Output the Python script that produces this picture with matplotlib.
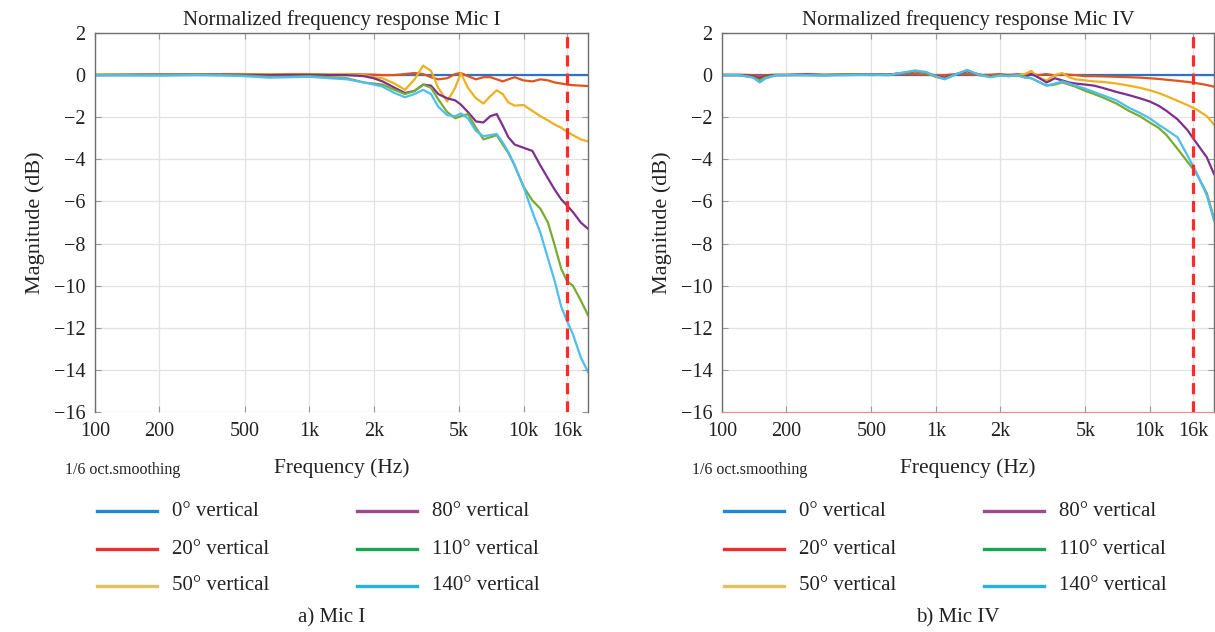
import matplotlib
matplotlib.use("Agg")
import matplotlib.pyplot as plt
from matplotlib.lines import Line2D

plt.rcParams["font.family"] = ["Liberation Serif", "DejaVu Serif"]

# ---- data --------------------------------------------------------------
ANGLES = ["0° vertical", "20° vertical", "50° vertical",
          "80° vertical", "110° vertical", "140° vertical"]

TICK_FREQS = [100, 200, 500, 1000, 2000, 5000, 10000, 16000]
TICK_LABELS = ["100", "200", "500", "1k", "2k", "5k", "10k", "16k"]
Y_TICKS = [-16, -14, -12, -10, -8, -6, -4, -2, 0, 2]
CUTOFF_HZ = 16000

# Mic I
freq_mic1 = [100, 200, 300, 400, 500, 650, 800, 1000, 1250, 1500, 1800, 2000,
             2200, 2500, 2800, 3100, 3400, 3700, 4000, 4400, 4800, 5100, 5500,
             6000, 6500, 7000, 7500, 8000, 8500, 9100, 10000, 11000, 12000,
             13000, 14000, 15000, 16000, 17000, 18500, 20000]
mic1_0 = [0.0] * len(freq_mic1)
mic1_20 = [0.02, 0.03, 0.03, 0.05, 0.05, 0.03, 0.05, 0.05, 0.02, 0.05, 0.03,
           0.02, 0.0, 0.0, 0.05, 0.1, 0.05, -0.1, -0.2, -0.15, 0.05, 0.1,
           -0.05, -0.2, -0.1, -0.1, -0.2, -0.3, -0.2, -0.1, -0.25, -0.3,
           -0.2, -0.25, -0.35, -0.4, -0.45, -0.48, -0.5, -0.52]
mic1_50 = [0.02, 0.03, 0.03, 0.05, 0.05, 0.03, 0.05, 0.05, 0.03, 0.05, 0.0,
           -0.1, -0.15, -0.4, -0.7, -0.2, 0.45, 0.2, -0.6, -1.25, -0.6, 0.1,
           -0.6, -1.1, -1.35, -1.0, -0.72, -0.9, -1.3, -1.45, -1.42, -1.7,
           -1.95, -2.15, -2.35, -2.5, -2.7, -2.85, -3.05, -3.15]
mic1_80 = [0.0, 0.02, 0.02, 0.03, 0.02, 0.0, 0.02, 0.02, 0.0, 0.0, -0.05,
           -0.15, -0.3, -0.6, -0.85, -0.75, -0.45, -0.5, -0.9, -1.1, -1.2,
           -1.4, -1.75, -2.2, -2.25, -1.95, -1.85, -2.4, -2.95, -3.3, -3.45,
           -3.6, -4.3, -4.9, -5.45, -5.9, -6.2, -6.5, -7.0, -7.3]
mic1_110 = [0.0, 0.0, 0.02, 0.0, -0.02, -0.08, -0.08, -0.05, -0.1, -0.15,
            -0.35, -0.4, -0.45, -0.7, -0.9, -0.75, -0.45, -0.6, -1.15, -1.75,
            -2.05, -1.95, -1.85, -2.5, -3.05, -2.95, -2.85, -3.3, -3.7, -4.3,
            -5.3, -5.95, -6.35, -7.0, -8.1, -9.2, -9.8, -10.0, -10.7, -11.4]
mic1_140 = [0.0, -0.02, 0.0, -0.02, -0.05, -0.12, -0.1, -0.08, -0.15, -0.2,
            -0.35, -0.45, -0.55, -0.85, -1.05, -0.9, -0.7, -0.9, -1.5, -1.9,
            -1.95, -1.82, -2.05, -2.65, -2.9, -2.85, -2.8, -3.2, -3.65, -4.3,
            -5.3, -6.5, -7.5, -8.7, -9.8, -11.0, -11.7, -12.3, -13.4, -14.1]

# Mic IV
freq_mic4 = [100, 120, 140, 150, 160, 180, 200, 250, 300, 400, 500, 600, 700,
             800, 900, 1000, 1100, 1250, 1400, 1600, 1800, 2000, 2200, 2400,
             2600, 2800, 3000, 3300, 3600, 3900, 4200, 4500, 5000, 5500, 6000,
             7000, 8000, 9000, 10000, 11000, 12000, 13500, 15000, 16500,
             18500, 20000]
mic4_0 = [0.0] * len(freq_mic4)
mic4_20 = [0.02, 0.02, 0.0, -0.05, 0.0, 0.02, 0.02, 0.05, 0.02, 0.03, 0.05,
           0.02, 0.05, 0.05, 0.03, 0.0, 0.0, 0.05, 0.05, 0.0, 0.02, 0.05, 0.0,
           0.05, 0.0, 0.08, 0.0, 0.05, -0.02, 0.05, 0.02, 0.0, -0.05, -0.05,
           -0.06, -0.08, -0.1, -0.12, -0.15, -0.18, -0.22, -0.27, -0.32,
           -0.38, -0.47, -0.55]
mic4_50 = [0.0, 0.0, -0.1, -0.3, -0.15, 0.0, 0.02, 0.0, 0.0, 0.05, 0.0, 0.02,
           0.1, 0.18, 0.1, -0.08, -0.15, 0.05, 0.2, 0.02, -0.05, 0.0, 0.02,
           0.0, 0.05, 0.2, -0.1, -0.25, 0.0, 0.1, -0.1, -0.2, -0.25, -0.3,
           -0.32, -0.4, -0.5, -0.6, -0.72, -0.85, -1.0, -1.22, -1.42, -1.62,
           -1.95, -2.35]
mic4_80 = [0.0, 0.0, -0.05, -0.15, -0.05, 0.0, 0.0, 0.02, 0.0, 0.03, 0.02,
           0.02, 0.1, 0.18, 0.12, -0.05, -0.12, 0.05, 0.18, 0.02, -0.05, 0.0,
           -0.02, 0.0, -0.1, 0.05, -0.1, -0.35, -0.15, -0.25, -0.35, -0.4,
           -0.45, -0.5, -0.6, -0.8, -0.95, -1.1, -1.25, -1.45, -1.7, -2.1,
           -2.6, -3.2, -3.9, -4.7]
mic4_110 = [0.0, 0.0, -0.1, -0.25, -0.1, 0.0, 0.0, 0.0, 0.0, 0.03, 0.02, 0.0,
            0.1, 0.2, 0.12, -0.08, -0.18, 0.05, 0.22, 0.02, -0.08, 0.0, -0.05,
            0.0, -0.1, -0.15, -0.3, -0.5, -0.45, -0.35, -0.45, -0.55, -0.75,
            -0.9, -1.05, -1.35, -1.7, -1.95, -2.25, -2.5, -2.85, -3.5, -4.1,
            -4.65, -5.6, -6.8]
mic4_140 = [0.0, 0.0, -0.12, -0.35, -0.15, 0.0, 0.0, 0.0, -0.02, 0.0, 0.02,
            0.0, 0.12, 0.22, 0.15, -0.05, -0.2, 0.05, 0.25, 0.0, -0.1, -0.02,
            -0.05, 0.0, -0.1, -0.15, -0.3, -0.5, -0.4, -0.3, -0.4, -0.5, -0.65,
            -0.8, -0.95, -1.2, -1.55, -1.8, -2.05, -2.35, -2.6, -2.95, -3.8,
            -4.6, -5.7, -6.9]

# ---- style --------------------------------------------------------------
LINE_COLORS = ["#2F72C4", "#E0531C", "#EDB120", "#7E2F8E", "#77AC30", "#4DBEEE"]
LEG_COLORS = ["#1F88CF", "#E8302C", "#E3C15C", "#9E4A8E", "#18A550", "#23B2E3"]
SPINE = "#6E6E6E"
GRID = "#E2E2E2"
TEXT = "#222222"

W, H = 1215, 632


def _fx(px):
    return px / W


def _fy(py):
    return 1 - py / H


def draw_panel(fig, left_px, right_px, freqs, curves, title, caption, bottom_color):
    """One frequency-response panel plus its legend block and caption."""
    ax = fig.add_axes([_fx(left_px), _fy(412), _fx(right_px - left_px), (412 - 33) / H])
    for vals, color in zip(curves, LINE_COLORS):
        ax.plot(freqs, vals, color=color, linewidth=1.6)
    ax.axvline(CUTOFF_HZ, color="#FF2A2A", linewidth=2.3, linestyle=(0, (3.5, 2.2)))

    ax.set_xscale("log")
    ax.set_xlim(100, 20000)
    ax.set_ylim(-16, 2)
    ax.set_xticks(TICK_FREQS)
    ax.set_xticklabels(TICK_LABELS)
    ax.minorticks_off()
    ax.set_yticks(Y_TICKS)
    ax.grid(color=GRID, linewidth=0.9)
    ax.set_axisbelow(True)
    ax.tick_params(direction="in", length=4, width=0.8, color="#999999",
                   labelsize=14.5, labelcolor=TEXT, pad=7,
                   top=True, right=True)
    for side in ("left", "top", "right"):
        ax.spines[side].set_color(SPINE)
        ax.spines[side].set_linewidth(1.0)
    ax.spines["bottom"].set_color(bottom_color)
    ax.spines["bottom"].set_linewidth(0.8)

    ax.set_title(title, fontsize=15, color=TEXT, pad=6)
    ax.set_ylabel("Magnitude (dB)", fontsize=16, color=TEXT, labelpad=6)

    mid = (left_px + right_px) / 2
    fig.text(_fx(mid), _fy(468), "Frequency (Hz)", ha="center", va="center",
             fontsize=15.5, color=TEXT)
    fig.text(_fx(left_px - 30), _fy(470), "1/6 oct.smoothing", ha="left",
             va="center", fontsize=11.5, color=TEXT)

    # legend block, two columns of three rows
    rows = [511, 549, 586]
    cols = [left_px + 2, left_px + 262]
    for i, (label, color) in enumerate(zip(ANGLES, LEG_COLORS)):
        x0 = cols[i // 3]
        y = _fy(rows[i % 3])
        fig.add_artist(Line2D([_fx(x0), _fx(x0 + 60)], [y, y], color=color,
                              linewidth=2.4, transform=fig.transFigure))
        fig.text(_fx(x0 + 75), y, label, ha="left", va="center",
                 fontsize=15, color=TEXT)

    fig.text(_fx(mid - 10), _fy(618), caption, ha="center", va="center",
             fontsize=15, color=TEXT)
    return ax


fig = plt.figure(figsize=(W / 100, H / 100), dpi=100)
fig.patch.set_facecolor("white")

draw_panel(fig, 95, 588, freq_mic1,
           [mic1_0, mic1_20, mic1_50, mic1_80, mic1_110, mic1_140],
           "Normalized frequency response Mic I", "a) Mic I", "none")
draw_panel(fig, 722, 1214, freq_mic4,
           [mic4_0, mic4_20, mic4_50, mic4_80, mic4_110, mic4_140],
           "Normalized frequency response Mic IV", "b) Mic IV", "#F08A8A")

fig.savefig("out.png", dpi=100, facecolor="white")
